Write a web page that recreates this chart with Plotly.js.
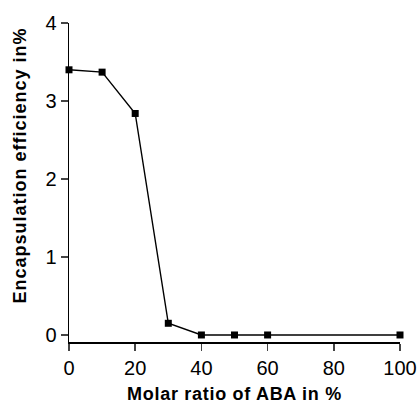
<!DOCTYPE html>
<html><head><meta charset="utf-8">
<script src="https://cdn.plot.ly/plotly-3.0.1.min.js"></script>
<style>html,body{margin:0;padding:0;background:#fff}
.xtitle{letter-spacing:0.7px}.annotation-text{letter-spacing:1px}</style>
</head><body><div id="chart" style="width:417px;height:404px"></div>
<script>
const molarRatio = [0, 10, 20, 30, 40, 50, 60, 100];
const efficiency = [3.40, 3.37, 2.84, 0.15, 0.0, 0.0, 0.0, 0.0];
const xTicks = [0, 20, 40, 60, 80, 100];
const yTicks = [0, 1, 2, 3, 4];

Plotly.newPlot('chart', [{
  x: molarRatio, y: efficiency, type: 'scatter', mode: 'lines+markers',
  line: {color: '#000', width: 1.4},
  marker: {symbol: 'square', size: 7, color: '#000'},
  cliponaxis: false, showlegend: false
}], {
  width: 417, height: 404,
  margin: {l: 69, r: 17, t: 23, b: 62},
  paper_bgcolor: '#fff', plot_bgcolor: '#fff',
  font: {family: 'Liberation Sans, Arial, sans-serif', color: '#000'},
  xaxis: {
    range: [0, 100], tickvals: xTicks, ticks: 'outside', ticklen: 7, tickwidth: 1.5,
    showline: true, linewidth: 1.5, linecolor: '#000', showgrid: false, zeroline: false,
    tickfont: {size: 20},
    title: {text: '<b>Molar ratio of ABA in %</b>', font: {size: 18}, standoff: 12}
  },
  yaxis: {
    range: [-0.09, 4], tickvals: yTicks, ticks: 'outside', ticklen: 7, tickwidth: 1.5,
    showline: true, linewidth: 1.5, linecolor: '#000', showgrid: false, zeroline: false,
    tickfont: {size: 20}
  },
  annotations: [{
    text: '<b>Encapsulation efficiency in%</b>', textangle: -90,
    xref: 'paper', yref: 'paper', x: 0, y: 0.553, xanchor: 'center', yanchor: 'middle',
    xshift: -49, showarrow: false, font: {size: 18}
  }]
}, {displayModeBar: false, staticPlot: true});
</script></body></html>
